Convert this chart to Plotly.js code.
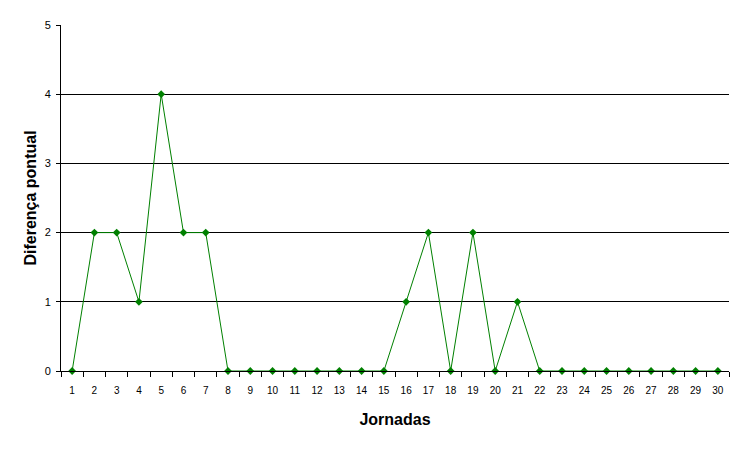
<!DOCTYPE html>
<html><head><meta charset="utf-8">
<script src="https://cdn.plot.ly/plotly-3.0.1.min.js"></script>
<style>body{margin:0;background:#fff}#c{width:742px;height:449px}</style>
</head><body><div id="c"></div>
<script>
var jornadas = ["1","2","3","4","5","6","7","8","9","10","11","12","13","14","15","16","17","18","19","20","21","22","23","24","25","26","27","28","29","30"];
var diferenca = [0,2,2,1,4,2,2,0,0,0,0,0,0,0,0,1,2,0,2,0,1,0,0,0,0,0,0,0,0,0];
var yTicks = [0,1,2,3,4,5];

var trace = {
  x: jornadas, y: diferenca, type: 'scatter', mode: 'lines+markers',
  line: {color: '#008000', width: 1},
  marker: {color: '#008000', symbol: 'diamond', size: 6},
  cliponaxis: false, hoverinfo: 'none'
};
var layout = {
  width: 742, height: 449,
  margin: {l: 61, r: 13, t: 25, b: 78},
  paper_bgcolor: '#fff', plot_bgcolor: '#fff',
  showlegend: false,
  font: {family: 'Liberation Sans, Arial, sans-serif', color: '#000'},
  xaxis: {
    type: 'category', tickson: 'boundaries', ticks: 'outside', ticklen: 5, tickcolor: '#000',
    showline: true, linecolor: '#000', linewidth: 1, showgrid: false, zeroline: false,
    tickfont: {size: 10}, ticklabelstandoff: 10, range: [-0.5, 29.5],
    title: {text: '<b>Jornadas</b>', font: {size: 16}, standoff: 18}
  },
  yaxis: {
    range: [0, 5], tickvals: yTicks, ticks: 'outside', ticklen: 4, tickcolor: '#000',
    showline: true, linecolor: '#000', linewidth: 1, showgrid: true, gridcolor: '#000', gridwidth: 1,
    zeroline: false, tickfont: {size: 11}, ticklabelstandoff: 3,
    title: {text: '<b>Diferença pontual</b>', font: {size: 16}, standoff: 4}
  }
};
Plotly.newPlot('c', [trace], layout, {staticPlot: true});
</script></body></html>
